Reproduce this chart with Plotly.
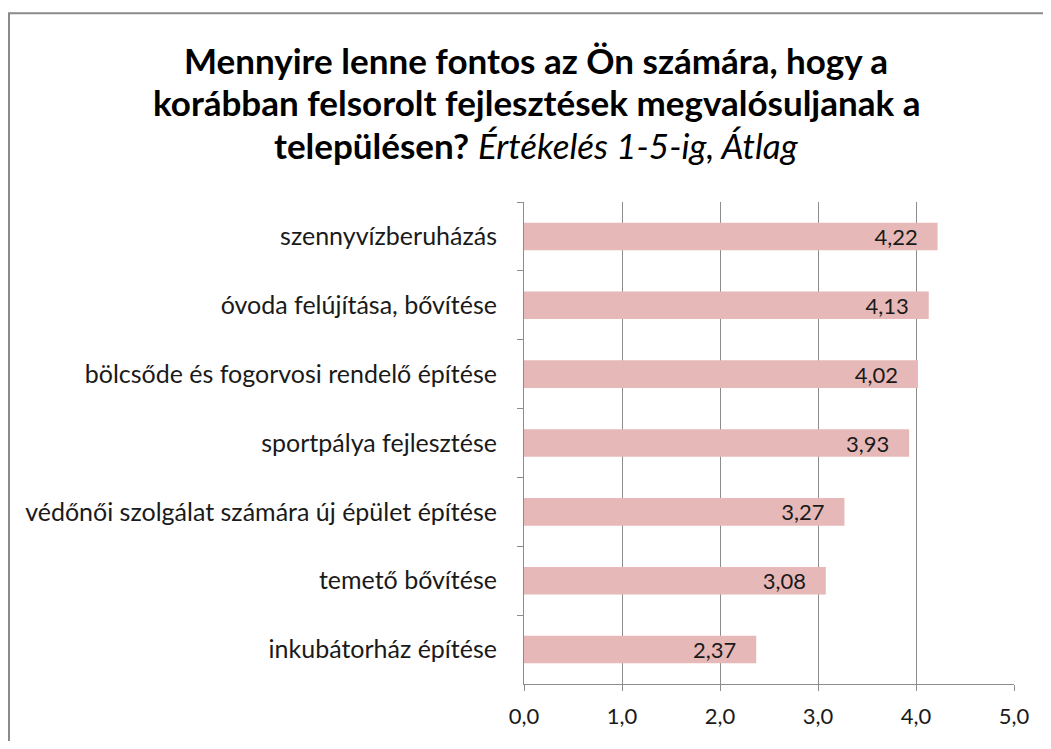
import plotly.graph_objects as go

categories = [
    "szennyvízberuházás",
    "óvoda felújítása, bővítése",
    "bölcsőde és fogorvosi rendelő építése",
    "sportpálya fejlesztése",
    "védőnői szolgálat számára új épület építése",
    "temető bővítése",
    "inkubátorház építése",
]
values = [4.22, 4.13, 4.02, 3.93, 3.27, 3.08, 2.37]
x_ticks = [0, 1, 2, 3, 4, 5]

FONT = "Lato"
OFF = 8  # page body margin
W, H = 1051 - 2 * OFF, 749 - 2 * OFF
L, T = 524 - OFF, 202 - OFF
R = W - (1014 - OFF)
B = H - (690 - OFF)
pw, ph = W - L - R, H - T - B

def px(x):
    return (x - OFF - L) / pw

def py(y):
    return (H - B - (y - OFF)) / ph

NB = "\u00a0"
fig = go.Figure(go.Bar(
    x=values, y=categories, orientation="h",
    marker=dict(color="#E6B9B8", line=dict(width=0)),
    width=0.4,
    texttemplate="%{x:.2f}" + NB * 3, textposition="inside", insidetextanchor="end",
    textfont=dict(size=22, color="#1a1a1a", family=FONT),
    cliponaxis=False,
))

fig.update_layout(
    width=W, height=H,
    margin=dict(l=L, r=R, t=T, b=B),
    paper_bgcolor="white", plot_bgcolor="white",
    separators=",.",
    showlegend=False,
    font=dict(family=FONT, color="#1a1a1a"),
    uniformtext=dict(minsize=22, mode="show"),
)
fig.update_xaxes(
    range=[0, 5], tickvals=x_ticks, tickformat=".1f",
    showgrid=True, gridcolor="#8c8c8c", gridwidth=1,
    showline=True, linecolor="#8c8c8c", linewidth=1,
    ticks="outside", ticklen=6, tickcolor="#8c8c8c",
    tickfont=dict(size=22, family=FONT, color="#1a1a1a"),
    ticklabelstandoff=7,
    zeroline=False,
)
fig.update_yaxes(
    autorange="reversed",
    showline=True, linecolor="#8c8c8c", linewidth=1,
    ticks="outside", ticklen=6, tickcolor="#8c8c8c", tickson="boundaries",
    tickfont=dict(size=25, family=FONT, color="#1a1a1a"),
    ticklabelstandoff=21,
    showgrid=False,
)

# outer frame
fig.add_shape(type="rect", xref="paper", yref="paper",
              x0=px(9), x1=px(1070), y0=py(11), y1=py(770),
              line=dict(color="#8a8a8a", width=2), layer="below")

title_lines = [
    ("<b>Mennyire lenne fontos az Ön számára, hogy a</b>", 58),
    ("<b>korábban felsorolt fejlesztések megvalósuljanak a</b>", 101),
    ("<b>településen?</b> <i>Értékelés 1-5-ig, Átlag</i>", 144),
]
for txt, yc in title_lines:
    fig.add_annotation(text=txt, xref="paper", yref="paper",
                       x=px(536), y=py(yc), xanchor="center", yanchor="middle",
                       showarrow=False,
                       font=dict(size=35, family=FONT, color="#000000"))

fig.write_html("out.html")
